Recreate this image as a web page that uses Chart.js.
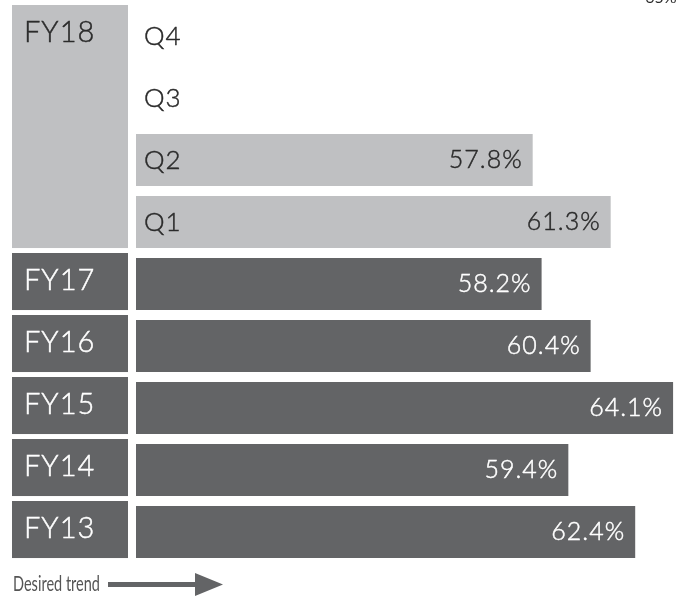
<!DOCTYPE html>
<html>
<head>
<meta charset="utf-8">
<script src="https://cdn.jsdelivr.net/npm/chart.js@4/dist/chart.umd.min.js"></script>
<style>
  html, body { margin: 0; padding: 0; background: #ffffff; }
  #wrap { width: 682px; height: 597px; position: relative; }
</style>
</head>
<body>
<div id="wrap"><canvas id="chart"></canvas></div>
<script>
// Rows from top to bottom: FY18 quarters, then full fiscal years
const rowLabels = ['Q4', 'Q3', 'Q2', 'Q1', 'FY17', 'FY16', 'FY15', 'FY14', 'FY13'];
const rowValues = [null, null, 57.8, 61.3, 58.2, 60.4, 64.1, 59.4, 62.4];
const rowIsQuarter = [true, true, true, true, false, false, false, false, false];

// Year groups shown in the left-hand column: label, first row, last row
const groupLabels = ['FY18', 'FY17', 'FY16', 'FY15', 'FY14', 'FY13'];
const groupFirstRow = [0, 4, 5, 6, 7, 8];
const groupLastRow = [3, 4, 5, 6, 7, 8];

const axisMin = 40;
const axisMax = 64.5;
const trendText = 'Desired trend';
const topTickText = '65%';

const LIGHT = '#bfc0c2';
const DARK = '#636466';
const TEXT_DARK = '#2b2b2b';
const FONT = 'Lato, "DejaVu Sans", sans-serif';

// fill text and thicken its strokes a little
function drawText(ctx, text, x, y, color) {
  ctx.fillStyle = color;
  ctx.strokeStyle = color;
  ctx.lineWidth = 0.45;
  ctx.fillText(text, x, y);
  ctx.strokeText(text, x, y);
}

const labelsPlugin = {
  id: 'rowLabels',
  afterDatasetsDraw(chart) {
    const ctx = chart.ctx;
    const ys = chart.scales.y;
    const meta = chart.getDatasetMeta(0);
    const pitch = ys.getPixelForValue(1) - ys.getPixelForValue(0);
    const halfBar = meta.data[2] ? meta.data[2].height / 2 : 26;
    ctx.save();
    ctx.letterSpacing = '1px';

    // year boxes in the left column
    groupLabels.forEach((g, i) => {
      const top = ys.getPixelForValue(groupFirstRow[i]) - pitch / 2;
      const bottom = ys.getPixelForValue(groupLastRow[i]) + halfBar;
      const quarter = rowIsQuarter[groupFirstRow[i]];
      ctx.fillStyle = quarter ? LIGHT : DARK;
      ctx.fillRect(12, top, 116, bottom - top);
      ctx.font = '300 29px ' + FONT;
      ctx.textAlign = 'left';
      ctx.textBaseline = 'middle';
      const cy = quarter ? top + 28 : (top + bottom) / 2 - 1;
      drawText(ctx, g, 24, cy, quarter ? TEXT_DARK : '#ffffff');
    });

    // quarter names inside the plot
    rowLabels.forEach((lab, i) => {
      if (!rowIsQuarter[i]) return;
      ctx.font = '300 26px ' + FONT;
      ctx.textAlign = 'left';
      ctx.textBaseline = 'middle';
      drawText(ctx, lab, 144, ys.getPixelForValue(i) + 1, TEXT_DARK);
    });

    // value labels at the end of each bar
    meta.data.forEach((bar, i) => {
      const v = rowValues[i];
      if (v === null || v === undefined) return;
      ctx.font = '300 25px ' + FONT;
      ctx.textAlign = 'right';
      ctx.textBaseline = 'middle';
      drawText(ctx, v.toFixed(1) + '%', bar.x - 10, bar.y, rowIsQuarter[i] ? TEXT_DARK : '#ffffff');
    });

    // top tick label, running off the top edge
    ctx.letterSpacing = '0px';
    ctx.fillStyle = TEXT_DARK;
    ctx.font = '16px ' + FONT;
    ctx.textAlign = 'center';
    ctx.textBaseline = 'alphabetic';
    ctx.fillText(topTickText, 661, 3);

    // "Desired trend" caption with arrow
    ctx.fillStyle = '#555555';
    ctx.font = '21px ' + FONT;
    ctx.textAlign = 'left';
    ctx.textBaseline = 'middle';
    const w = ctx.measureText(trendText).width;
    ctx.save();
    ctx.translate(13, 584);
    ctx.scale(87 / w, 1);
    ctx.fillText(trendText, 0, 0);
    ctx.restore();
    ctx.fillStyle = DARK;
    ctx.fillRect(108, 582, 90, 5);
    ctx.beginPath();
    ctx.moveTo(195, 573);
    ctx.lineTo(223, 584.5);
    ctx.lineTo(195, 596);
    ctx.closePath();
    ctx.fill();

    ctx.restore();
  }
};

new Chart(document.getElementById('chart'), {
  type: 'bar',
  data: {
    labels: rowLabels,
    datasets: [{
      data: rowValues,
      backgroundColor: rowIsQuarter.map(q => q ? LIGHT : DARK),
      borderWidth: 0,
      barPercentage: 0.84,
      categoryPercentage: 1.0
    }]
  },
  options: {
    indexAxis: 'y',
    responsive: true,
    maintainAspectRatio: false,
    animation: false,
    layout: { padding: { left: 136, right: 0, top: 5, bottom: 34 } },
    scales: {
      x: { display: false, min: axisMin, max: axisMax },
      y: { display: false }
    },
    plugins: {
      legend: { display: false },
      tooltip: { enabled: false }
    }
  },
  plugins: [labelsPlugin]
});
</script>
</body>
</html>
